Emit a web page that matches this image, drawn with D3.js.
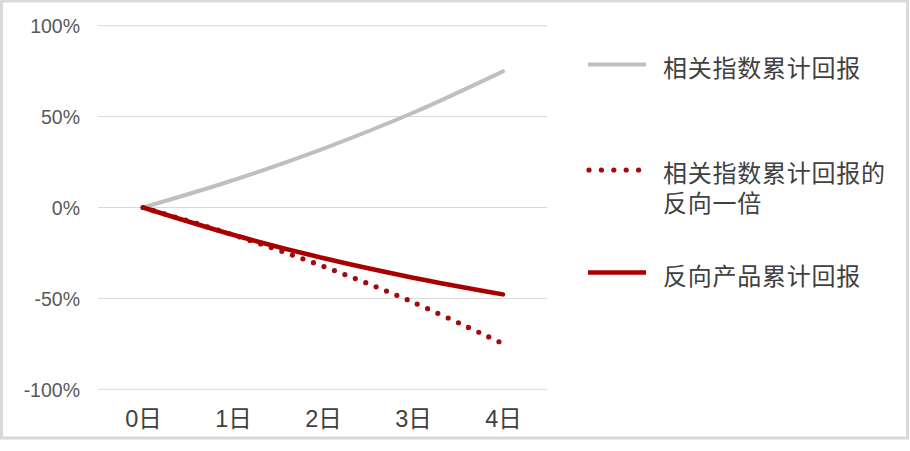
<!DOCTYPE html>
<html>
<head>
<meta charset="utf-8">
<script src="https://cdn.jsdelivr.net/npm/d3@7"></script>
<style>
  html, body { margin: 0; padding: 0; background: #fff; }
  svg { display: block; }
</style>
</head>
<body>
<svg id="chart" width="910" height="451"></svg>
<script>
const categories = ["0日", "1日", "2日", "3日", "4日"];
const indexReturn = [0, 15, 32.3, 52.1, 74.9];
const inverseOfIndex = [0, -15, -32.3, -52.1, -74.9];
const inverseProduct = [0, -15, -27.8, -38.6, -47.8];
const yTicks = [-100, -50, 0, 50, 100];
const yTickLabels = ["-100%", "-50%", "0%", "50%", "100%"];
const legendLabels = [["相关指数累计回报"], ["相关指数累计回报的", "反向一倍"], ["反向产品累计回报"]];

const svg = d3.select("#chart");
const cjk = "'Noto Sans CJK SC', 'Microsoft YaHei', sans-serif";

// frame
svg.append("rect").attr("x", 1.5).attr("y", 1).attr("width", 906).attr("height", 437)
  .attr("fill", "#fff").attr("stroke", "#d9d9d9").attr("stroke-width", 3);

const x = d3.scalePoint().domain(categories).range([98, 548]).padding(0.5);
const y = d3.scaleLinear().domain([-100, 100]).range([389.3, 25.7]);

// gridlines
svg.append("g").selectAll("line").data(yTicks).join("line")
  .attr("x1", 98).attr("x2", 547)
  .attr("y1", d => y(d)).attr("y2", d => y(d))
  .attr("stroke", "#d9d9d9").attr("stroke-width", 1);

// y axis labels
const yAxis = d3.axisLeft(y).tickValues(yTicks).tickSize(0).tickPadding(0)
  .tickFormat((d, i) => yTickLabels[i]);
const gy = svg.append("g").attr("transform", "translate(80,0)").call(yAxis);
gy.select(".domain").remove();
gy.selectAll("text").attr("font-family", "'Liberation Sans', Arial, sans-serif")
  .attr("font-size", 19.5).attr("fill", "#595959").attr("dy", "0.35em");

// x axis labels
const xAxis = d3.axisBottom(x).tickSize(0).tickPadding(0);
const gx = svg.append("g").attr("transform", "translate(0,410)").call(xAxis);
gx.select(".domain").remove();
gx.selectAll("text").attr("font-family", "'Liberation Sans', " + cjk)
  .attr("font-size", 23.5).attr("fill", "#404040").attr("dy", "0.71em");

const line = d3.line()
  .x((d, i) => x(categories[i]))
  .y(d => y(d))
  .curve(d3.curveCatmullRom.alpha(0.5));

const series = [
  { values: indexReturn, color: "#bfbfbf", width: 4, dash: null },
  { values: inverseOfIndex, color: "#a50a0a", width: 5.2, dash: "0 11.2" },
  { values: inverseProduct, color: "#a80000", width: 4.5, dash: null }
];

svg.append("g").selectAll("path").data(series).join("path")
  .attr("d", d => line(d.values))
  .attr("fill", "none")
  .attr("stroke", d => d.color)
  .attr("stroke-width", d => d.width)
  .attr("stroke-linecap", "round")
  .attr("stroke-dasharray", d => d.dash);

// legend
const legendY = [64.5, 170, 272.5];
const leg = svg.append("g");
series.forEach((s, i) => {
  const g = leg.append("g").attr("transform", `translate(0,${legendY[i]})`);
  if (s.dash) {
    g.append("line").attr("x1", 589).attr("x2", 639).attr("y1", 0).attr("y2", 0)
      .attr("stroke", s.color).attr("stroke-width", s.width)
      .attr("stroke-linecap", "round").attr("stroke-dasharray", "0 12.4");
  } else {
    g.append("line").attr("x1", 588).attr("x2", 646).attr("y1", 0).attr("y2", 0)
      .attr("stroke", s.color).attr("stroke-width", s.width);
  }
  legendLabels[i].forEach((l, j) => {
    g.append("text").attr("x", 663).attr("y", 4 + j * 30).attr("dy", "0.35em")
      .attr("font-family", "'Liberation Sans', " + cjk).attr("font-size", 24).attr("letter-spacing", 0.75)
      .attr("fill", "#404040").text(l);
  });
});
</script>
</body>
</html>
